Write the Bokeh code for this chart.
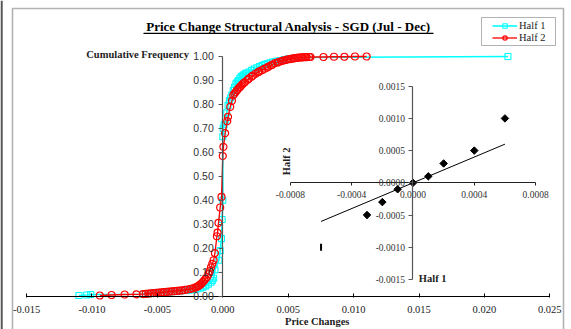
from bokeh.plotting import figure
from bokeh.models import (Range1d, LinearAxis, FixedTicker, NumeralTickFormatter, Label,
                          Legend, LegendItem, BoxAnnotation, ColumnDataSource, CDSView,
                          IndexFilter)
from bokeh.embed import file_html
from bokeh.resources import INLINE
import numpy as np

# ---------------------------------------------------------------- data
# Cumulative frequency of daily price changes, first half of the period
half1_x = [-0.0110, -0.0104, -0.0101,
           -0.0061, -0.0059, -0.0057, -0.0055, -0.0053, -0.0051, -0.0049, -0.0047,
           -0.0045, -0.0043, -0.0041, -0.0039, -0.0037, -0.0035, -0.0033, -0.0031,
           -0.0029, -0.0027, -0.0025, -0.0023, -0.0021, -0.0019, -0.0017, -0.0015,
           -0.0013, -0.0011, -0.0009, -0.0008, -0.0007, -0.0006,
           -0.0003, -0.0002, -0.0001, -0.00005, 0.0000,
           0.0000, 0.00003, 0.0001, 0.0002, 0.0003, 0.0004, 0.0005, 0.0006, 0.0007,
           0.0008, 0.0009, 0.0010, 0.0011, 0.0012, 0.0013, 0.0014, 0.0015, 0.0016,
           0.0017, 0.0018, 0.0020, 0.0022, 0.0024, 0.0026, 0.0028, 0.0030, 0.0032,
           0.0034, 0.0036, 0.0038, 0.0040, 0.0042, 0.0044, 0.0047, 0.0050, 0.0054,
           0.0059, 0.0218]
half1_f = [0.003, 0.005, 0.007,
           0.008, 0.009, 0.010, 0.011, 0.012, 0.013, 0.014, 0.015,
           0.016, 0.017, 0.018, 0.019, 0.020, 0.021, 0.022, 0.023,
           0.024, 0.025, 0.026, 0.027, 0.029, 0.031, 0.034, 0.038,
           0.043, 0.050, 0.058, 0.066, 0.075, 0.110,
           0.150, 0.190, 0.240, 0.320, 0.400,
           0.665, 0.700, 0.715, 0.734, 0.765, 0.796, 0.815, 0.828, 0.840,
           0.858, 0.872, 0.886, 0.894, 0.900, 0.909, 0.915, 0.920, 0.924,
           0.928, 0.931, 0.935, 0.942, 0.948, 0.953, 0.958, 0.963, 0.967,
           0.970, 0.974, 0.977, 0.979, 0.981, 0.983, 0.987, 0.990, 0.993,
           0.996, 1.000]

# Cumulative frequency of daily price changes, second half of the period
half2_x = [-0.0094, -0.0085, -0.0075, -0.0066, -0.0061, -0.0059, -0.0057, -0.0055,
           -0.0053, -0.0051, -0.0049, -0.0047, -0.0045, -0.0043, -0.0041, -0.0039,
           -0.0037, -0.0035, -0.0033, -0.0031, -0.0029, -0.0027, -0.0025, -0.0023,
           -0.0021, -0.0020, -0.0019, -0.0018, -0.0017, -0.0016, -0.0015, -0.0014,
           -0.0013, -0.0012, -0.0011, -0.0010, -0.0009, -0.0008, -0.0007, -0.0006,
           -0.00045, -0.0004, -0.00033, -0.0002, -0.0001,
           0.0000, 0.00005, 0.00018, 0.00034, 0.0004,
           0.00057, 0.0007, 0.0008, 0.0009, 0.0010, 0.0011, 0.0012, 0.0013, 0.0014,
           0.0015, 0.0016, 0.0017, 0.0019, 0.0020, 0.0022, 0.0023, 0.0025, 0.0027,
           0.0028, 0.0030, 0.0032, 0.0034, 0.0035, 0.0037, 0.0038, 0.0040, 0.0042,
           0.0043, 0.0045, 0.0046, 0.0048, 0.0049, 0.0051, 0.0052, 0.0054, 0.0055,
           0.0057, 0.0058, 0.0060, 0.0061, 0.0063, 0.0064, 0.0066, 0.0067, 0.0077,
           0.0085, 0.0093, 0.0101, 0.0110]
half2_f = [0.003, 0.005, 0.007, 0.008, 0.009, 0.010, 0.011, 0.012,
           0.013, 0.014, 0.015, 0.016, 0.017, 0.018, 0.019, 0.020,
           0.021, 0.022, 0.023, 0.024, 0.026, 0.028, 0.030, 0.033,
           0.036, 0.038, 0.041, 0.045, 0.049, 0.054, 0.060, 0.066,
           0.073, 0.080, 0.092, 0.105, 0.120, 0.135, 0.150, 0.180,
           0.250, 0.265, 0.306, 0.370, 0.414,
           0.585, 0.623, 0.680, 0.730, 0.748,
           0.790, 0.815, 0.838, 0.845, 0.852, 0.860, 0.866, 0.872, 0.878,
           0.884, 0.889, 0.893, 0.903, 0.908, 0.916, 0.920, 0.928, 0.934,
           0.938, 0.943, 0.949, 0.954, 0.958, 0.963, 0.966, 0.972, 0.975,
           0.978, 0.981, 0.983, 0.985, 0.987, 0.989, 0.990, 0.992, 0.993,
           0.994, 0.995, 0.996, 0.996, 0.997, 0.997, 0.998, 0.998, 0.998,
           0.999, 0.999, 1.000, 1.000]

# Quantile-quantile comparison (Half 1 vs Half 2)
qq_half1 = [0.0006, 0.0004, 0.0002, 0.0001, 0.0000, -0.0001, -0.0002, -0.0003, -0.0006]
qq_half2 = [0.0010, 0.0005, 0.0003, 0.0001, 0.0000, -0.0001, -0.0003, -0.0005, -0.0010]
ref_line = [-0.0006, 0.0006]

x_ticks = [-0.015, -0.010, -0.005, 0.000, 0.005, 0.010, 0.015, 0.020, 0.025]
y_ticks = [0.0, 0.1, 0.2, 0.3, 0.4, 0.5, 0.6, 0.7, 0.8, 0.9, 1.0]
qq_x_ticks = [-0.0008, -0.0004, 0.0, 0.0004, 0.0008]
qq_y_ticks = [-0.0015, -0.0010, -0.0005, 0.0, 0.0005, 0.0010, 0.0015]

# ---------------------------------------------------------------- layout
W, H = 571, 329
X0, X1 = -0.0169954, 0.0266590      # main price-change range across the canvas
Y0, Y1 = -0.138924, 1.233625         # main frequency range across the canvas
QX0, QX1 = -0.0026917, 0.0010343     # inset range (Half 1)
QY0, QY1 = -0.0022779, 0.0028307     # inset range (Half 2)


def mx(px):
    return X0 + px * (X1 - X0) / W


def my(py):
    return Y1 - py * (Y1 - Y0) / H


SERIF = "Liberation Serif"
SANS = "Liberation Sans"

p = figure(width=W, height=H, x_range=Range1d(X0, X1), y_range=Range1d(Y0, Y1),
           output_backend="svg", toolbar_location=None, min_border=0,
           x_axis_location=None, y_axis_location=None)
p.xgrid.visible = False
p.ygrid.visible = False
p.outline_line_color = None
p.background_fill_color = "white"
p.border_fill_color = "white"
p.extra_x_ranges = {"qx": Range1d(QX0, QX1)}
p.extra_y_ranges = {"qy": Range1d(QY0, QY1)}

# chart border and window edge
p.add_layout(BoxAnnotation(left=mx(12), right=mx(563), top=my(8), bottom=my(345),
                           fill_color=None, fill_alpha=0, line_color="black", line_width=1.6))
p.add_layout(BoxAnnotation(left=mx(0), right=mx(2.2), top=my(0), bottom=my(345),
                           fill_color="#555555", fill_alpha=1, line_color=None))

# ---------------------------------------------------------------- main axes
xax = LinearAxis(fixed_location=0, bounds=(-0.015, 0.025),
                 ticker=FixedTicker(ticks=x_ticks),
                 formatter=NumeralTickFormatter(format="0.000"))
xax.axis_line_color = "black"
xax.axis_line_width = 1.2
xax.major_tick_line_color = "black"
xax.major_tick_in = 3
xax.major_tick_out = 1
xax.minor_tick_line_color = None
xax.major_label_standoff = 9
xax.major_label_text_font = SERIF
xax.major_label_text_font_size = "10.5px"
xax.major_label_text_color = "#222222"
p.add_layout(xax, "below")

yax = LinearAxis(fixed_location=0, bounds=(0, 1),
                 ticker=FixedTicker(ticks=y_ticks),
                 formatter=NumeralTickFormatter(format="0.00"))
yax.axis_line_color = "#555555"
yax.axis_line_width = 1.2
yax.major_tick_line_color = "#555555"
yax.major_tick_in = 0
yax.major_tick_out = 4
yax.minor_tick_line_color = None
yax.major_label_standoff = 5
yax.major_label_text_font = SANS
yax.major_label_text_font_size = "10.5px"
yax.major_label_text_color = "#333333"
p.add_layout(yax, "left")

# ---------------------------------------------------------------- CDF series
src1 = ColumnDataSource(dict(x=half1_x, f=half1_f))
src2 = ColumnDataSource(dict(x=half2_x, f=half2_f))

CYAN = "#00FFFF"
RED = "#FF0000"
l1 = p.line("x", "f", source=src1, line_color=CYAN, line_width=1.6)
s1 = p.scatter("x", "f", source=src1, marker="square", size=6, line_color=CYAN,
               line_width=1.1, fill_color=None)
l2 = p.line("x", "f", source=src2, line_color=RED, line_width=1.3)
s2 = p.scatter("x", "f", source=src2, marker="circle", size=7, line_color=RED,
               line_width=1.2, fill_color=None)

# ---------------------------------------------------------------- inset axes
qxax = LinearAxis(x_range_name="qx", y_range_name="qy", fixed_location=0,
                  bounds=(-0.0008, 0.0008), ticker=FixedTicker(ticks=qq_x_ticks),
                  formatter=NumeralTickFormatter(format="0.0000"))
qxax.axis_line_color = "#222222"
qxax.major_tick_line_color = "#222222"
qxax.major_tick_in = 0
qxax.major_tick_out = 3
qxax.minor_tick_line_color = None
qxax.major_label_standoff = 5
qxax.major_label_text_font = SERIF
qxax.major_label_text_font_size = "9.5px"
qxax.major_label_text_color = "#333333"
p.add_layout(qxax, "below")

qyax = LinearAxis(x_range_name="qx", y_range_name="qy", fixed_location=0,
                  bounds=(-0.0015, 0.0015), ticker=FixedTicker(ticks=qq_y_ticks),
                  formatter=NumeralTickFormatter(format="0.0000"))
qyax.axis_line_color = "#555555"
qyax.axis_line_width = 1.2
qyax.major_tick_line_color = "#555555"
qyax.major_tick_in = 0
qyax.major_tick_out = 4
qyax.minor_tick_line_color = None
qyax.major_label_standoff = 4
qyax.major_label_text_font = SERIF
qyax.major_label_text_font_size = "9.5px"
qyax.major_label_text_color = "#333333"
p.add_layout(qyax, "left")

# ---------------------------------------------------------------- inset marks
qsrc = ColumnDataSource(dict(h1=qq_half1, h2=qq_half2))
p.line(ref_line, ref_line, x_range_name="qx", y_range_name="qy",
       line_color="black", line_width=1)
n_qq = len(qq_half1)
p.scatter("h1", "h2", source=qsrc, view=CDSView(filter=IndexFilter(list(range(n_qq - 1)))),
          x_range_name="qx", y_range_name="qy", marker="square", angle=np.pi / 4,
          size=5.3, fill_color="black", line_color="black")
p.scatter("h1", "h2", source=qsrc, view=CDSView(filter=IndexFilter([n_qq - 1])),
          x_range_name="qx", y_range_name="qy", marker="dash", angle=np.pi / 2,
          size=7, line_color="black", line_width=2)

# ---------------------------------------------------------------- texts
p.add_layout(Label(x=mx(288), y=my(26), text="Price Change Structural Analysis - SGD (Jul - Dec)",
                   text_align="center", text_baseline="middle", text_font=SERIF,
                   text_font_style="bold", text_font_size="13px", text_color="black"))
p.segment(x0=[mx(143)], x1=[mx(433)], y0=[my(32.8)], y1=[my(32.8)],
          line_color="black", line_width=1.2)
p.add_layout(Label(x=mx(188.5), y=my(53.5), text="Cumulative Frequency",
                   text_align="right", text_baseline="middle", text_font=SERIF,
                   text_font_style="bold", text_font_size="10.5px", text_color="#222222"))
p.add_layout(Label(x=mx(316.7), y=my(320.7), text="Price Changes",
                   text_align="center", text_baseline="middle", text_font=SERIF,
                   text_font_style="bold", text_font_size="10.5px", text_color="#222222"))
p.add_layout(Label(x=mx(285.5), y=my(160.8), text="Half 2", angle=np.pi / 2,
                   text_align="center", text_baseline="middle", text_font=SERIF,
                   text_font_style="bold", text_font_size="10.5px", text_color="#222222"))
p.add_layout(Label(x=mx(418.3), y=my(277.5), text="Half 1",
                   text_align="left", text_baseline="middle", text_font=SERIF,
                   text_font_style="bold", text_font_size="10.5px", text_color="#222222"))

# ---------------------------------------------------------------- legend
p.add_layout(BoxAnnotation(left=mx(481), right=mx(555), top=my(17), bottom=my(45),
                           fill_color="white", fill_alpha=1, line_color="black",
                           line_width=1))
legend = Legend(items=[LegendItem(label="Half 1", renderers=[l1, s1]),
                       LegendItem(label="Half 2", renderers=[l2, s2])],
                location=(492, 286), orientation="vertical", padding=0, spacing=1,
                margin=0, glyph_width=25, glyph_height=11, label_height=11,
                label_standoff=2, border_line_color=None, background_fill_alpha=0,
                label_text_font=SERIF, label_text_font_size="10.5px",
                label_text_color="#222222")
p.add_layout(legend)

open("out.html", "w").write(file_html(p, INLINE))
